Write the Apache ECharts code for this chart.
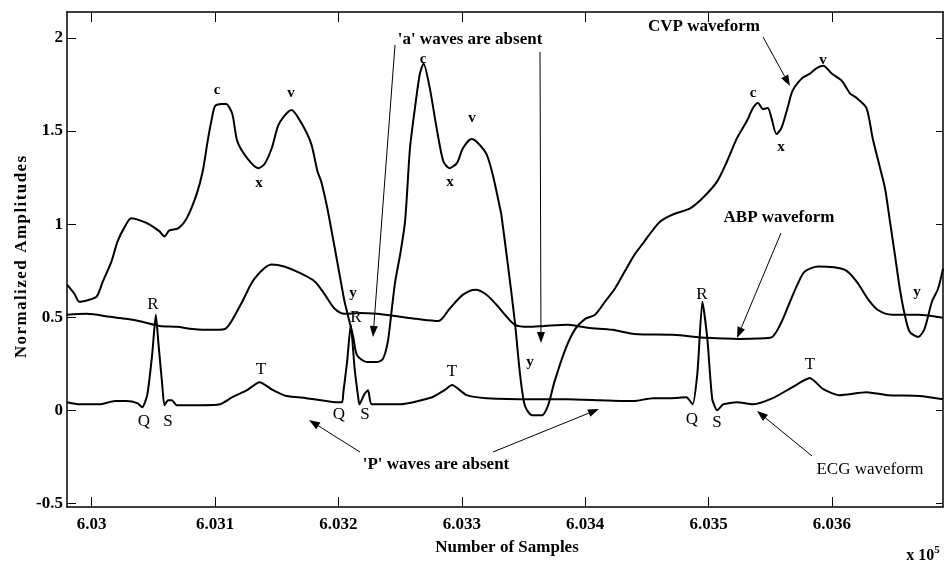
<!DOCTYPE html>
<html>
<head>
<meta charset="utf-8">
<script src="https://cdn.jsdelivr.net/npm/echarts@6/dist/echarts.min.js"></script>
<style>html,body{margin:0;padding:0;background:#fff}#c{width:944px;height:564px}</style>
</head>
<body>
<div id="c"></div>
<script>
// ---- data (x in samples, y normalized amplitude) ----
const cvpX = [602980,602986,602990,602998,603004,603009,603016,603021,603027,603032,603039,603047,603055,603059,603063,603070,603077,603085,603090,603094,603097,603100,603105,603109,603114,603118,603126,603135,603140,603146,603151,603156,603162,603170,603178,603183,603186,603191,603195,603199,603203,603205,603209,603212,603215,603223,603231,603236,603240,603243,603246,603250,603254,603258,603262,603266,603269,603274,603280,603285,603290,603296,603301,603308,603313,603320,603325,603331,603332,603337,603343,603347,603351,603357,603365,603370,603375,603384,603392,603400,603408,603416,603424,603432,603440,603448,603452,603461,603471,603485,603495,603507,603515,603523,603531,603536,603540,603544,603548,603551,603555,603559,603564,603568,603576,603582,603588,603593,603600,603608,603615,603620,603628,603633,603639,603643,603647,603651,603655,603659,603663,603670,603675,603681,603686,603690];
const cvpY = [0.675,0.626,0.583,0.594,0.610,0.691,0.799,0.907,0.988,1.031,1.020,0.998,0.961,0.934,0.966,0.977,1.031,1.160,1.284,1.446,1.554,1.635,1.646,1.646,1.592,1.446,1.355,1.301,1.322,1.409,1.527,1.581,1.614,1.543,1.430,1.284,1.230,1.085,0.944,0.799,0.653,0.583,0.475,0.394,0.297,0.259,0.259,0.275,0.367,0.529,0.691,0.836,1.015,1.409,1.624,1.808,1.862,1.732,1.500,1.338,1.301,1.328,1.409,1.457,1.436,1.376,1.268,1.085,1.052,0.799,0.475,0.205,0.027,-0.027,-0.027,0.027,0.151,0.329,0.437,0.491,0.513,0.583,0.653,0.745,0.836,0.907,0.944,1.015,1.052,1.085,1.139,1.230,1.338,1.462,1.554,1.624,1.651,1.619,1.624,1.570,1.484,1.516,1.624,1.716,1.786,1.808,1.840,1.851,1.808,1.770,1.700,1.678,1.624,1.462,1.301,1.193,1.015,0.836,0.653,0.513,0.421,0.394,0.437,0.583,0.653,0.761];

const abpX = [602980,602996,603015,603028,603041,603055,603069,603082,603096,603108,603113,603122,603132,603146,603156,603170,603181,603189,603197,603205,603217,603231,603250,603263,603281,603290,603301,603311,603320,603331,603335,603343,603354,603367,603386,603402,603422,603440,603471,603499,603525,603550,603558,603566,603572,603578,603589,603610,603620,603629,603637,603649,603670,603690];
const abpY = [0.513,0.518,0.502,0.491,0.475,0.453,0.448,0.437,0.432,0.437,0.475,0.583,0.707,0.783,0.772,0.734,0.691,0.621,0.545,0.518,0.523,0.518,0.502,0.491,0.480,0.545,0.621,0.648,0.621,0.545,0.513,0.459,0.448,0.453,0.459,0.443,0.432,0.410,0.405,0.389,0.383,0.389,0.459,0.583,0.675,0.745,0.772,0.756,0.691,0.599,0.540,0.513,0.513,0.497];

const ecgX = [602980,602990,603006,603019,603028,603037,603041,603045,603049,603052,603054,603057,603059,603062,603065,603069,603088,603104,603114,603126,603136,603147,603158,603174,603186,603199,603203,603204,603207,603210,603213,603216,603217,603221,603224,603227,603250,603276,603286,603292,603304,603320,603358,603385,603412,603439,603455,603469,603482,603487,603491,603495,603499,603503,603507,603512,603523,603536,603552,603568,603582,603593,603606,603628,603645,603671,603690];
const ecgY = [0.043,0.032,0.032,0.049,0.049,0.038,0.016,0.081,0.297,0.513,0.367,0.151,0.027,0.054,0.054,0.027,0.027,0.032,0.070,0.108,0.151,0.108,0.076,0.065,0.054,0.043,0.043,0.097,0.259,0.459,0.232,0.070,0.032,0.086,0.108,0.032,0.032,0.070,0.108,0.135,0.081,0.065,0.059,0.059,0.054,0.049,0.065,0.065,0.070,0.032,0.205,0.583,0.383,0.059,0.000,0.032,0.043,0.032,0.065,0.124,0.173,0.113,0.081,0.097,0.081,0.076,0.059];

const xTicks = [603000,603100,603200,603300,603400,603500,603600];
const yTicks = [-0.5,0,0.5,1,1.5,2];
const xMin = 602980, xMax = 603690, yMin = -0.52, yMax = 2.14;

// ---- annotations (pixel positions) ----
const waveLetters = [
  ['c',217,90],['v',291,93],['x',259,183],['y',353,293],
  ['c',423,59],['v',472,118],['x',450,182],['y',530,362],
  ['c',753,93],['x',781,147],['v',823,60],['y',917,292]
];
const ecgLetters = [
  ['R',153,305],['Q',144,422],['S',168,422],['T',261,370],
  ['R',356,318],['Q',339,415],['S',365,415],['T',452,372],
  ['R',702,295],['Q',692,420],['S',717,423],['T',810,365]
];
const notes = [
  ["'a' waves are absent",470,40,'bold'],
  ['CVP waveform',704,27,'bold'],
  ['ABP waveform',779,218,'bold'],
  ['ECG waveform',870,470,'normal'],
  ["'P' waves are absent",436,465,'bold']
];
const arrows = [
  [395,45,373,337],[540,52,541,343],[763,37,790,86],[781,233,737,338],
  [812,456,757,411],[360,452,309,420],[493,452,599,409]
];

const F = '"Liberation Serif","Times New Roman",serif';
const zip = (a,b)=>a.map((v,i)=>[v,b[i]]);
const chart = echarts.init(document.getElementById('c'));

const graphics = [];
waveLetters.forEach(([t,x,y])=>graphics.push({type:'text',x,y,style:{text:t,font:'bold 15px '+F,fill:'#000',align:'center',verticalAlign:'middle'}}));
ecgLetters.forEach(([t,x,y])=>graphics.push({type:'text',x,y,style:{text:t,font:'17px '+F,fill:'#000',align:'center',verticalAlign:'middle'}}));
notes.forEach(([t,x,y,w])=>graphics.push({type:'text',x,y,style:{text:t,font:w+' 17px '+F,fill:'#000',align:'center',verticalAlign:'middle'}}));
arrows.forEach(([x1,y1,x2,y2])=>{
  const dx=x2-x1, dy=y2-y1, L=Math.hypot(dx,dy), ux=dx/L, uy=dy/L;
  const hl=11, hw=4;
  const bx=x2-ux*hl, by=y2-uy*hl;
  graphics.push({type:'line',shape:{x1,y1,x2:bx,y2:by},style:{stroke:'#000',lineWidth:1}});
  graphics.push({type:'polygon',shape:{points:[[x2,y2],[bx-uy*hw,by+ux*hw],[bx+uy*hw,by-ux*hw]]},style:{fill:'#000'}});
});
graphics.push({type:'text',x:507,y:548,style:{text:'Number of Samples',font:'bold 17px '+F,fill:'#000',align:'center',verticalAlign:'middle'}});
graphics.push({type:'text',x:923,y:556,style:{text:'x 10{s|5}',font:'bold 16px '+F,fill:'#000',align:'center',verticalAlign:'middle',rich:{s:{font:'bold 11px '+F,verticalAlign:'bottom',padding:[0,0,12,0]}}}});
graphics.push({type:'text',x:22,y:257,rotation:Math.PI/2,style:{text:'N\u200Ao\u200Ar\u200Am\u200Aa\u200Al\u200Ai\u200Az\u200Ae\u200Ad\u2009 A\u200Am\u200Ap\u200Al\u200Ai\u200At\u200Au\u200Ad\u200Ae\u200As',font:'bold 17px '+F,fill:'#000',align:'center',verticalAlign:'middle'}});

const axisLineStyle = {show:true,onZero:false,lineStyle:{color:'#000',width:1.5}};
const axisCommon = {type:'value', axisLine:axisLineStyle, splitLine:{show:false}};
chart.setOption({
  animation:false,
  backgroundColor:'#fff',
  grid:{left:67,right:1,top:12,bottom:57,containLabel:false},
  xAxis:[
    Object.assign({},axisCommon,{min:xMin,max:xMax,position:'bottom',
      axisTick:{show:true,inside:true,length:10,customValues:xTicks,lineStyle:{color:'#000',width:1}},
      axisLabel:{customValues:xTicks,margin:9,color:'#000',fontFamily:F,fontWeight:'bold',fontSize:17,
        formatter:v=>(v/1e5).toFixed(3).replace(/0+$/,'')}}),
    Object.assign({},axisCommon,{min:xMin,max:xMax,position:'top',
      axisTick:{show:true,inside:true,length:10,customValues:xTicks,lineStyle:{color:'#000',width:1}},
      axisLabel:{show:false}})
  ],
  yAxis:[
    Object.assign({},axisCommon,{min:yMin,max:yMax,position:'left',
      axisTick:{show:true,inside:true,length:9,customValues:yTicks,lineStyle:{color:'#000',width:1}},
      axisLabel:{customValues:yTicks,margin:4,color:'#000',fontFamily:F,fontWeight:'bold',fontSize:17}}),
    Object.assign({},axisCommon,{min:yMin,max:yMax,position:'right',
      axisTick:{show:true,inside:true,length:7,customValues:yTicks,lineStyle:{color:'#000',width:1}},
      axisLabel:{show:false}})
  ],
  series:[
    {name:'CVP',type:'line',data:zip(cvpX,cvpY),showSymbol:false,smooth:0.25,lineStyle:{color:'#000',width:2},z:3},
    {name:'ABP',type:'line',data:zip(abpX,abpY),showSymbol:false,smooth:0.3,lineStyle:{color:'#000',width:2},z:3},
    {name:'ECG',type:'line',data:zip(ecgX,ecgY),showSymbol:false,smooth:0.2,lineStyle:{color:'#000',width:2},z:3}
  ],
  graphic:graphics
});
</script>
</body>
</html>
